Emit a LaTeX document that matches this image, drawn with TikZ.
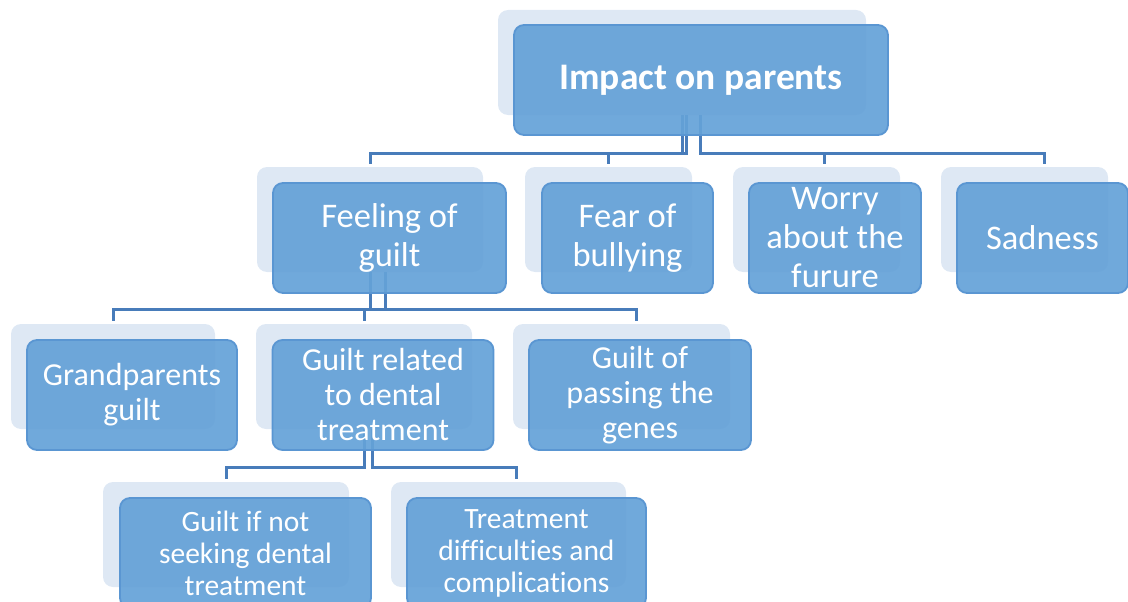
\documentclass[tikz,border=0pt]{standalone}
\usepackage{fontspec}
\setmainfont{Carlito}[Ligatures={NoCommon}]
\definecolor{boxfill}{RGB}{101,162,216}
\definecolor{boxedge}{RGB}{90,150,210}
\definecolor{backfill}{RGB}{222,232,244}
\definecolor{linkcol}{RGB}{72,124,186}
\begin{document}
\begin{tikzpicture}[x=1pt,y=-1pt,
  mainbox/.style={draw=boxedge, line width=1.8pt, fill=boxfill, fill opacity=0.93,
    text opacity=1, text=white, rounded corners=10pt, align=center,
    minimum height=110pt, minimum width=#1, inner sep=0pt},
  backbox/.style={fill=backfill, rounded corners=10pt, minimum height=105pt,
    minimum width=#1, inner sep=0pt},
  topfont/.style={font={\fontsize{37.5}{41}\selectfont\bfseries}},
  onefont/.style={font={\fontsize{34.5}{39}\selectfont}},
  twofont/.style={font={\fontsize{32}{35}\selectfont}},
  threefont/.style={font={\fontsize{29.5}{32}\selectfont}},
  link/.style={draw=linkcol, line width=3pt, shorten >=3pt}
]
\useasboundingbox (0,0) rectangle (1128,602);

% back panels
\node[backbox=368] (rootB) at (682,62.5) {};
\node[backbox=226] (guiltB) at (370,219.5) {};
\node[backbox=167] (fearB) at (608.5,219.5) {};
\node[backbox=167] (worryB) at (816.5,219.5) {};
\node[backbox=167] (sadB) at (1024.5,219.5) {};
\node[backbox=204] (grandB) at (113,376.5) {};
\node[backbox=216] (dentalB) at (364,376.5) {};
\node[backbox=217] (genesB) at (621.5,376.5) {};
\node[backbox=246] (seekB) at (226,534.5) {};
\node[backbox=235] (complB) at (508.5,534.5) {};

% connectors: root to first level
\draw[link] (rootB.south) |- (370,153) -- ([xshift=0pt]guiltB.north);
\draw[link] ([xshift=4.5pt]rootB.south) |- (608,153) -- ([xshift=-0.5pt]fearB.north);
\draw[link] ([xshift=18pt]rootB.south) |- (824,153) -- ([xshift=7.5pt]worryB.north);
\draw[link] ([xshift=18pt]rootB.south) |- (1044,153) -- ([xshift=19.5pt]sadB.north);
% feeling of guilt to second level
\draw[link] (guiltB.south) |- (113,309) -- (grandB.north);
\draw[link] ([xshift=15pt]guiltB.south) |- (364,309) -- (dentalB.north);
\draw[link] ([xshift=15pt]guiltB.south) |- (636,309) -- ([xshift=14.5pt]genesB.north);
% dental treatment to third level
\draw[link] (dentalB.south) |- (226,467) -- (seekB.north);
\draw[link] ([xshift=8pt]dentalB.south) |- (516,467) -- ([xshift=7.5pt]complB.north);

% front boxes
\node[mainbox=374, topfont] (root) at (701,80) {Impact on parents};
\node[mainbox=233, onefont] (guilt) at (389.5,238) {Feeling of\\guilt};
\node[mainbox=171, onefont] (fear) at (627.5,238) {Fear of\\bullying};
\node[mainbox=172, onefont] (worry) at (835,238) {Worry\\about the\\furure};
\node[mainbox=171, onefont] (sad) at (1042.5,238) {Sadness};
\node[mainbox=210, twofont] (grand) at (132,395) {Grandparents\\guilt};
\node[mainbox=221, twofont] (dental) at (383,395) {Guilt related\\to dental\\treatment};
\node[mainbox=222, twofont] (genes) at (640,395) {Guilt of\\passing the\\genes};
\node[mainbox=251, threefont] (seek) at (245.5,553) {Guilt if not\\seeking dental\\treatment};
\node[mainbox=239, threefont] (compl) at (526.5,553) {Treatment\\difficulties and\\complications};
\end{tikzpicture}
\end{document}
